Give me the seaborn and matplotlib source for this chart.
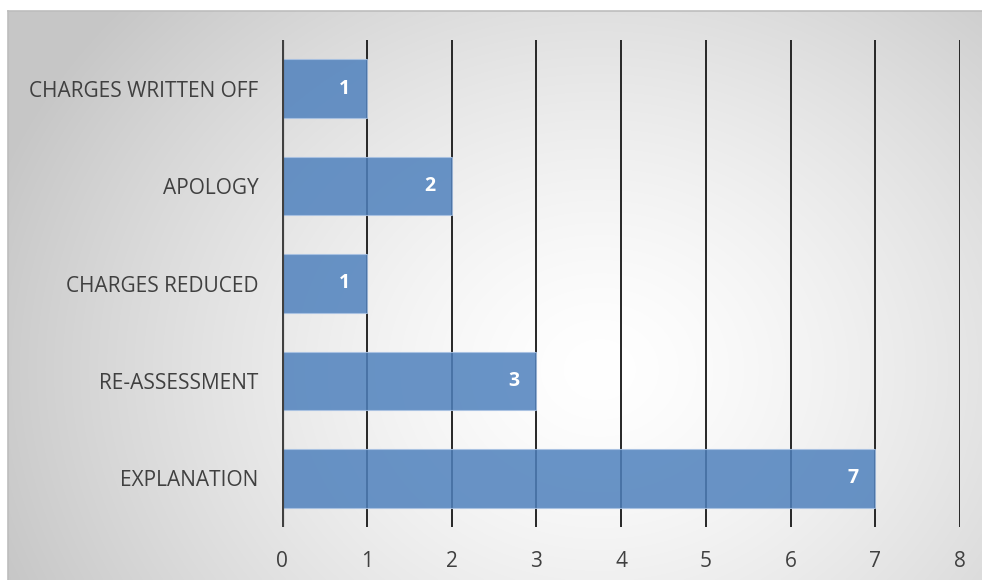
import numpy as np
import pandas as pd
import matplotlib
matplotlib.use("Agg")
import matplotlib.pyplot as plt
import seaborn as sns

# Complaint outcomes and their counts
categories = ["CHARGES WRITTEN OFF", "APOLOGY", "CHARGES REDUCED", "RE-ASSESSMENT", "EXPLANATION"]
counts = [1, 2, 1, 3, 7]
x_ticks = [0, 1, 2, 3, 4, 5, 6, 7, 8]

df = pd.DataFrame({"outcome": categories, "count": counts})

sns.set_theme(style="white")
plt.rcParams["font.family"] = ["Open Sans", "DejaVu Sans"]

W, H = 982, 580
fig = plt.figure(figsize=(W / 100, H / 100), dpi=100)
fig.patch.set_facecolor("white")

# Radial grey-to-white backdrop inside the chart frame
bg = fig.add_axes([8 / W, 0, 1 - 8 / W, 1 - 11 / H], zorder=0)
gx, gy = np.meshgrid(np.linspace(8, W, 500), np.linspace(11, H, 300))
cx, cy = 600, 370
r = np.hypot(gx - cx, (gy - cy) / 0.85)
shade = 1.0 - 0.22 * np.clip(r / 640, 0, 1) ** 1.4
bg.imshow(np.dstack([shade, shade, shade]), extent=[0, 1, 0, 1], aspect="auto",
          origin="upper", interpolation="bilinear")
bg.set_xticks([])
bg.set_yticks([])
for side in ["right", "bottom"]:
    bg.spines[side].set_visible(False)
for side in ["top", "left"]:
    bg.spines[side].set_color("#bdbdbd")
    bg.spines[side].set_linewidth(1.2)

ax = fig.add_axes([282 / W, 1 - 527 / H, (960 - 282) / W, (527 - 40) / H], zorder=1)
ax.set_facecolor("none")

# Vertical gridlines drawn beneath the translucent bars
for t in x_ticks[1:]:
    ax.axvline(t, color="#262626", lw=1.4, zorder=1)

sns.barplot(data=df, y="outcome", x="count", orient="h", order=categories,
            color="#4f81bd", width=0.6, saturation=1, alpha=0.85,
            edgecolor="#a9c2e3", linewidth=0.8, ax=ax, zorder=2)

# Axis line at zero
ax.axvline(0, color="#404040", lw=3, zorder=3)

for patch, v in zip(ax.patches, counts):
    yc = patch.get_y() + patch.get_height() / 2
    ax.text(v - 0.26, yc, str(v), ha="center", va="center", color="white",
            fontsize=14, fontweight="bold", zorder=4)

ax.set_xlim(0, 8)
ax.set_ylim(len(categories) - 0.5, -0.5)
ax.set_xticks(x_ticks)
ax.set_xticklabels([str(t) for t in x_ticks])
ax.set_xlabel("")
ax.set_ylabel("")
ax.grid(False)
for s in ax.spines.values():
    s.set_visible(False)
ax.tick_params(axis="x", length=0, pad=17, labelsize=15, labelcolor="#404040")
ax.tick_params(axis="y", length=0, pad=17, labelsize=15, labelcolor="#404040")

fig.savefig("out.png", dpi=100, facecolor="white")
